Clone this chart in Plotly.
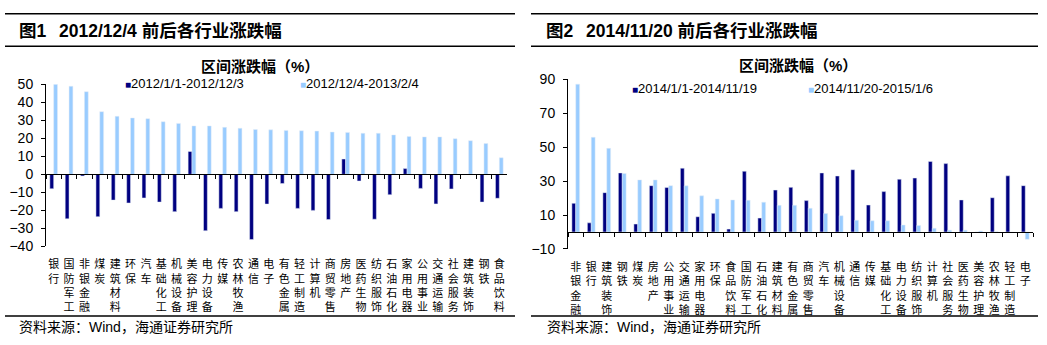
import plotly.graph_objects as go

W, H = 1047, 345

# ---- 图1: 2012/12/4 前后 ----
cats1 = ["银行", "国防军工", "非银金融", "煤炭", "建筑材料", "环保", "汽车", "基础化工",
         "机械设备", "美容护理", "电力设备", "传媒", "农林牧渔", "通信", "电子", "有色金属",
         "轻工制造", "计算机", "商贸零售", "房地产", "医药生物", "纺织服饰", "石油石化",
         "家用电器", "公用事业", "交通运输", "社会服务", "建筑装饰", "钢铁", "食品饮料"]
before1 = [-8.0, -24.7, -0.9, -23.5, -14.3, -15.9, -13.1, -15.4, -20.7, 12.7,
           -31.3, -18.9, -20.7, -36.2, -16.5, -5.1, -18.9, -20.0, -25.1, 8.5,
           -3.7, -24.9, -11.3, 3.2, -7.8, -16.4, -8.1, 0.0, -15.4, -13.3]
after1 = [50.0, 48.9, 45.9, 34.8, 32.2, 31.3, 30.9, 29.2, 28.3, 26.9,
          26.9, 26.1, 25.6, 24.9, 24.7, 24.4, 24.2, 24.0, 23.5, 23.3,
          22.8, 22.8, 21.9, 21.0, 20.8, 20.8, 19.8, 18.7, 17.1, 9.2]
names1 = ["2012/1/1-2012/12/3", "2012/12/4-2013/2/4"]
yrange1 = [-40, 50]

# ---- 图2: 2014/11/20 前后 ----
cats2 = ["非银金融", "银行", "建筑装饰", "钢铁", "煤炭", "房地产", "公用事业", "交通运输",
         "家用电器", "环保", "食品饮料", "国防军工", "石油石化", "建筑材料", "有色金属",
         "商贸零售", "汽车", "机械设备", "通信", "传媒", "基础化工", "电力设备", "纺织服饰",
         "计算机", "社会服务", "医药生物", "美容护理", "农林牧渔", "轻工制造", "电子"]
before2 = [16.9, 5.4, 23.2, 34.8, 4.7, 27.3, 26.2, 37.6, 9.0, 11.0,
           1.7, 35.8, 8.2, 24.7, 26.3, 18.5, 34.8, 33.0, 36.7, 15.9,
           23.8, 31.1, 31.8, 41.6, 40.3, 18.9, 0.0, 20.2, 33.1, 27.3]
after2 = [87.1, 55.8, 49.3, 34.5, 30.7, 30.7, 27.3, 27.2, 21.3, 19.5,
          18.9, 18.7, 17.6, 15.7, 15.7, 14.0, 10.9, 9.6, 6.9, 6.6,
          6.6, 4.1, 3.9, 2.2, 1.1, 1.1, 0.6, 0.2, -0.4, -4.3]
names2 = ["2014/1/1-2014/11/19", "2014/11/20-2015/1/6"]
yrange2 = [-10, 90]

DARK = "#000080"
LIGHT = "#99CCFF"
LATIN = "Liberation Sans, Arial, Noto Sans CJK SC"
CJK = "Noto Sans CJK SC"


def px(x):
    return x / W


def py(y):
    return 1 - y / H


def stacked(label):
    return "<br>".join(label)


# plot areas (paper fractions)
dom_x1 = [px(46), px(507)]
dom_y1 = [py(250), py(80)]
dom_x2 = [px(568), px(1033)]
dom_y2 = [py(252.7), py(74.7)]


def zero_pos(dom_y, yr):
    return dom_y[0] + (0 - yr[0]) / (yr[1] - yr[0]) * (dom_y[1] - dom_y[0])


fig = go.Figure()

fig.add_trace(go.Bar(x=cats1, y=before1, name=names1[0], marker_color=DARK,
                     xaxis="x", yaxis="y", showlegend=False))
fig.add_trace(go.Bar(x=cats1, y=after1, name=names1[1], marker_color=LIGHT,
                     xaxis="x", yaxis="y", showlegend=False))
fig.add_trace(go.Bar(x=cats2, y=before2, name=names2[0], marker_color=DARK,
                     xaxis="x2", yaxis="y2", showlegend=False))
fig.add_trace(go.Bar(x=cats2, y=after2, name=names2[1], marker_color=LIGHT,
                     xaxis="x2", yaxis="y2", showlegend=False))

# helper traces that give the zero-line axes their categories
fig.add_trace(go.Scatter(x=cats1, y=[0] * len(cats1), mode="markers",
                         marker=dict(opacity=0), hoverinfo="skip",
                         showlegend=False, xaxis="x3", yaxis="y"))
fig.add_trace(go.Scatter(x=cats2, y=[0] * len(cats2), mode="markers",
                         marker=dict(opacity=0), hoverinfo="skip",
                         showlegend=False, xaxis="x4", yaxis="y2"))

cat_axis = dict(type="category", showline=False, ticks="", showgrid=False,
                zeroline=False, tickfont=dict(family=CJK, size=11, color="black"),
                tickangle=0, ticklabelstandoff=10)
zero_axis = dict(type="category", anchor="free", showline=True, linecolor="black",
                 linewidth=1, ticks="outside", ticklen=4, tickcolor="black",
                 tickson="boundaries", showticklabels=False, showgrid=False,
                 zeroline=False, side="bottom")
val_axis = dict(showline=True, linecolor="black", linewidth=1, ticks="outside",
                ticklen=4, tickcolor="black", showgrid=False, zeroline=False,
                tickfont=dict(family=LATIN, size=14, color="black"),
                ticklabelstandoff=5)

fig.update_layout(
    width=W, height=H,
    margin=dict(l=0, r=0, t=0, b=0),
    paper_bgcolor="white", plot_bgcolor="white",
    barmode="group", bargap=0.5, bargroupgap=0,
    xaxis=dict(cat_axis, domain=dom_x1, anchor="y", range=[-0.5, len(cats1) - 0.5],
               tickvals=cats1, ticktext=[stacked(c) for c in cats1]),
    yaxis=dict(val_axis, domain=dom_y1, anchor="x", range=yrange1,
               tick0=-40, dtick=10),
    xaxis2=dict(cat_axis, domain=dom_x2, anchor="y2", range=[-0.5, len(cats2) - 0.5],
                tickvals=cats2, ticktext=[stacked(c) for c in cats2]),
    yaxis2=dict(val_axis, domain=dom_y2, anchor="x2", range=yrange2,
                tick0=-10, dtick=20),
    xaxis3=dict(zero_axis, overlaying="x", domain=dom_x1,
                position=zero_pos(dom_y1, yrange1), range=[-0.5, len(cats1) - 0.5]),
    xaxis4=dict(zero_axis, overlaying="x2", domain=dom_x2,
                position=zero_pos(dom_y2, yrange2), range=[-0.5, len(cats2) - 0.5]),
)

# header / footer rules
shapes = []
for x0, x1 in [(5, 515), (531, 1038)]:
    for y in (6, 40, 323):
        shapes.append(dict(type="line", xref="paper", yref="paper",
                           x0=px(x0), x1=px(x1), y0=py(y), y1=py(y),
                           line=dict(color="black", width=1.5)))
fig.update_layout(shapes=shapes)

ann = []


def text(x, y, s, size, anchor="left", family=LATIN):
    ann.append(dict(x=px(x), y=py(y), xref="paper", yref="paper", text=s,
                    showarrow=False, xanchor=anchor, yanchor="middle",
                    font=dict(family=family, size=size, color="black")))


# figure titles
text(17, 24, "<b>图1</b>", 17.5)
text(57, 24, "<b>2012/12/4 前后各行业涨跌幅</b>", 17.5)
text(544, 24, "<b>图2</b>", 17.5)
text(584, 24, "<b>2014/11/20 前后各行业涨跌幅</b>", 17.5)

# chart titles
text(260, 61, "<b>区间涨跌幅（%）</b>", 15, anchor="center")
text(798, 60, "<b>区间涨跌幅（%）</b>", 15, anchor="center")


def legend_item(x, y, color, label):
    text(x, y, f"<span style='color:{color};font-size:10px'>■</span>{label}", 13)


legend_item(123, 79, DARK, names1[0])
legend_item(298, 79, LIGHT, names1[1])
legend_item(630, 84, DARK, names2[0])
legend_item(806, 84, LIGHT, names2[1])

# sources
text(17, 334, "资料来源：Wind，海通证券研究所", 14)
text(545, 334, "资料来源：Wind，海通证券研究所", 14)

fig.update_layout(annotations=ann)

fig.write_html("out.html")
